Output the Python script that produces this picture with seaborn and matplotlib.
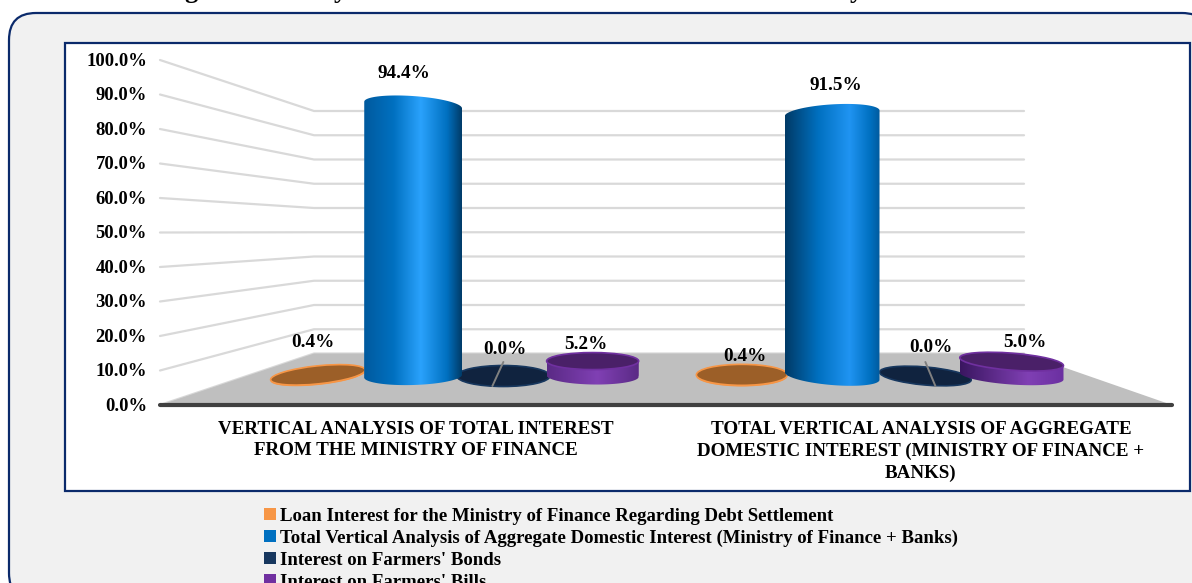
import numpy as np
import pandas as pd
import matplotlib
matplotlib.use("Agg")
import matplotlib.pyplot as plt
import seaborn as sns
from matplotlib.colors import LinearSegmentedColormap
from matplotlib.patches import FancyBboxPatch, Rectangle, Polygon, Ellipse, Patch, PathPatch
from matplotlib.path import Path
from matplotlib.transforms import Affine2D

# ---- chart values ----
categories = [
    "VERTICAL ANALYSIS OF TOTAL INTEREST\nFROM THE MINISTRY OF FINANCE",
    "TOTAL VERTICAL ANALYSIS OF AGGREGATE\nDOMESTIC INTEREST (MINISTRY OF FINANCE +\nBANKS)",
]
series_names = [
    "Loan Interest for the Ministry of Finance Regarding Debt Settlement",
    "Total Vertical Analysis of Aggregate Domestic Interest (Ministry of Finance + Banks)",
    "Interest on Farmers' Bonds",
    "Interest on Farmers' Bills",
]
loan_interest = [0.4, 0.4]
aggregate_interest = [94.4, 91.5]
farmers_bonds = [0.0, 0.0]
farmers_bills = [5.2, 5.0]
tick_values = [0, 10, 20, 30, 40, 50, 60, 70, 80, 90, 100]

# ---- styling ----
W, H = 1192, 583
sns.set_theme(style="white")
plt.rcParams["font.family"] = ["Liberation Serif", "DejaVu Serif"]
plt.rcParams["font.weight"] = "bold"

swatches = ["#F79646", "#0070C0", "#17375E", "#7030A0"]
top_faces = ["#9C5F28", "#0070C0", "#10233F", "#4A2068"]
draw_order = [0, 2, 3, 1]

# cylinder geometry per series, per category (pixels / degrees)
shift = [[-2, 1], [2, 0], [1, 2], [-1, -3]]
span = [[95, 91], [98, 95], [93, 92], [92, 104]]
minor = [[9, 10.5], [9, 9], [10.5, 9], [8.5, 8.5]]
top_tilt = [[-6, 0], [4, -3.6], [0, 5], [0, 4.5]]
base_tilt = [[-6, 0], [-1.7, 4.8], [0, 5], [1, 4]]
shading = {
    (1, 0): [(0, "#005A9E"), (.3, "#0070C0"), (.58, "#2AA2FC"), (.85, "#0070C0"), (1, "#003B68")],
    (1, 1): [(0, "#003A66"), (.35, "#0070C0"), (.68, "#2094F2"), (.9, "#0070C0"), (1, "#005A9E")],
    (3, 0): [(0, "#5A2A85"), (.55, "#8040B4"), (1, "#5A2A85")],
    (3, 1): [(0, "#3A1660"), (.65, "#8040B4"), (1, "#6A2FA0")],
}
label_offsets = [[(-5, -32), (3, -18)], [(-9, -32), (4, -28)], [(1, -26), (5, -28)], [(-7, -17), (13, -19)]]

# ---- figure and decoration ----
fig = plt.figure(figsize=(W / 100, H / 100), dpi=100, facecolor="white")
bg = fig.add_axes([0, 0, 1, 1])
bg.set_xlim(0, W)
bg.set_ylim(H, 0)
bg.axis("off")

bg.add_patch(FancyBboxPatch((9 + 27, 13 + 27), 1173 - 27 * 2 + 27, 587 - 27 * 2,
                            boxstyle="round,pad=27,rounding_size=27",
                            fc="#F1F1F1", ec="#0B2A6B", lw=1.6))
bg.add_patch(Rectangle((65, 43), 1125, 448, fc="white", ec="#0B2A6B", lw=1.6))

# clipped heading above the panel
for x, ch in zip([184, 334, 850], ["g", "y", "y"]):
    bg.text(x, -2, ch, fontsize=19, ha="left", va="baseline", color="black")

front_zero, front_step = 405, 3.45
back_zero, back_step = 353.5, 2.425
wall_left, wall_back_l, wall_back_r, wall_right = 160, 314, 1024, 1172

bg.add_patch(Polygon([(wall_left, front_zero), (wall_back_l, back_zero),
                      (wall_back_r, back_zero), (wall_right, front_zero)],
                     fc="#BFBFBF", ec="none", zorder=2))
for v in tick_values:
    yf, yb = front_zero - v * front_step, back_zero - v * back_step
    bg.plot([wall_left, wall_back_l, wall_back_r], [yf, yb, yb], color="#D9D9D9", lw=1.6, zorder=1)
    bg.text(147, yf + 1.2, f"{v:.1f}%", ha="right", va="center", fontsize=13.4, color="black")
bg.plot([wall_left, wall_right], [front_zero, front_zero], color="#404040", lw=3,
        solid_capstyle="round", zorder=2.5)

for (x, y), text in zip([(416, 421), (921, 421)], categories):
    bg.text(x, y, text, ha="center", va="top", fontsize=13.7, linespacing=1.34, color="black")

# ---- bars through seaborn ----
frame = pd.DataFrame({
    "category": np.repeat(categories, 4),
    "series": series_names * 2,
    "value": [v[i] for i in range(2) for v in (loan_interest, aggregate_interest, farmers_bonds, farmers_bills)],
})
plot_left, plot_width, plot_base, plot_height = 246.25, 842, 376, 287
ax = fig.add_axes([plot_left / W, (H - plot_base) / H, plot_width / W, plot_height / H])
ax.patch.set_alpha(0)
sns.barplot(data=frame, x="category", y="value", hue="series", order=categories,
            hue_order=series_names, palette=swatches, width=0.867, gap=0,
            legend=False, ax=ax)
ax.set_xlim(-0.5, 1.5)
ax.set_ylim(0, 100)
ax.set_axis_off()

px = Affine2D().scale(1, -1).translate(0, H)


def to_px(x, y):
    dx, dy = ax.transData.transform((x, y))
    return dx, H - dy


def arc(cx, cy, a, b, tilt, t0, t1, n=60):
    t = np.linspace(t0, t1, n)
    th = np.deg2rad(tilt)
    return np.c_[cx + a * np.cos(t) * np.cos(th) - b * np.sin(t) * np.sin(th),
                 cy + a * np.cos(t) * np.sin(th) + b * np.sin(t) * np.cos(th)]


fig.canvas.draw()
bars = sorted([p for p in ax.patches], key=lambda p: p.get_x())
bars_by = {}
for cat in range(2):
    for s in range(4):
        bars_by[(s, cat)] = bars[cat * 4 + s]

for rank, s in enumerate(draw_order):
    for cat in range(2):
        rect = bars_by[(s, cat)]
        value = frame["value"].iloc[cat * 4 + s]
        cx0, y_base = to_px(rect.get_x() + rect.get_width() / 2, 0)
        _, y_top = to_px(0, value)
        cx = cx0 + shift[s][cat]
        a, b = span[s][cat] / 2, minor[s][cat]
        z = 3 + rank * 0.1 + cat * 0.01

        upper = arc(cx, y_top, a, b, top_tilt[s][cat], np.pi, 2 * np.pi)
        lower = arc(cx, y_base, a, b, base_tilt[s][cat], 0, np.pi)
        outline = np.vstack([upper, lower, upper[:1]])
        body = PathPatch(Path(outline), transform=px, fc="none", ec="none", clip_on=False)
        ax.add_patch(body)
        rect.set_zorder(z)
        rect.set_clip_path(body)
        rect.set_clip_box(fig.bbox)

        stops = shading.get((s, cat), [(0, swatches[s]), (1, swatches[s])])
        cmap = LinearSegmentedColormap.from_list("side", stops)
        im = ax.imshow(np.linspace(0, 1, 256)[None, :], cmap=cmap, aspect="auto", vmin=0, vmax=1,
                       extent=(cx - a, cx + a, outline[:, 1].max() + 2, outline[:, 1].min() - 2),
                       transform=px, zorder=z + 0.001, interpolation="bilinear")
        im.set_clip_path(body)
        im.set_clip_box(fig.bbox)

        if s != 1:
            ax.add_patch(Ellipse((cx, y_top), 2 * a, 2 * b, angle=top_tilt[s][cat], transform=px,
                                 fc=top_faces[s], ec=swatches[s], lw=1.2, zorder=z + 0.002, clip_on=False))

        ox, oy = label_offsets[s][cat]
        ax.text(cx + ox, y_top + oy, f"{value:.1f}%", transform=px, ha="center", va="center",
                fontsize=13.8, color="black", zorder=6, clip_on=False)

# leader lines from the zero-height bonds labels
for cat, dx in enumerate([(-11, 0), (10, 0)]):
    rect = bars_by[(2, cat)]
    cx0, y_base = to_px(rect.get_x() + rect.get_width() / 2, 0)
    cx = cx0 + shift[2][cat]
    ax.plot([cx, cx + dx[0]], [y_base - 14, y_base + 10], transform=px, color="#808080",
            lw=1.4, zorder=5, clip_on=False)

ax.set_xlim(-0.5, 1.5)
ax.set_ylim(0, 100)

handles = [Patch(fc=c, ec="none") for c in swatches]
fig.legend(handles, series_names, loc="upper left", bbox_to_anchor=(262 / W, 1 - 506 / H),
           bbox_transform=fig.transFigure, frameon=False, labelcolor="black",
           handlelength=0.62, handleheight=0.62, handletextpad=0.25, labelspacing=0.26,
           borderaxespad=0, borderpad=0.1, prop={"family": "Liberation Serif", "weight": "bold", "size": 13.5})

fig.savefig("out.png", dpi=100, facecolor="white")
